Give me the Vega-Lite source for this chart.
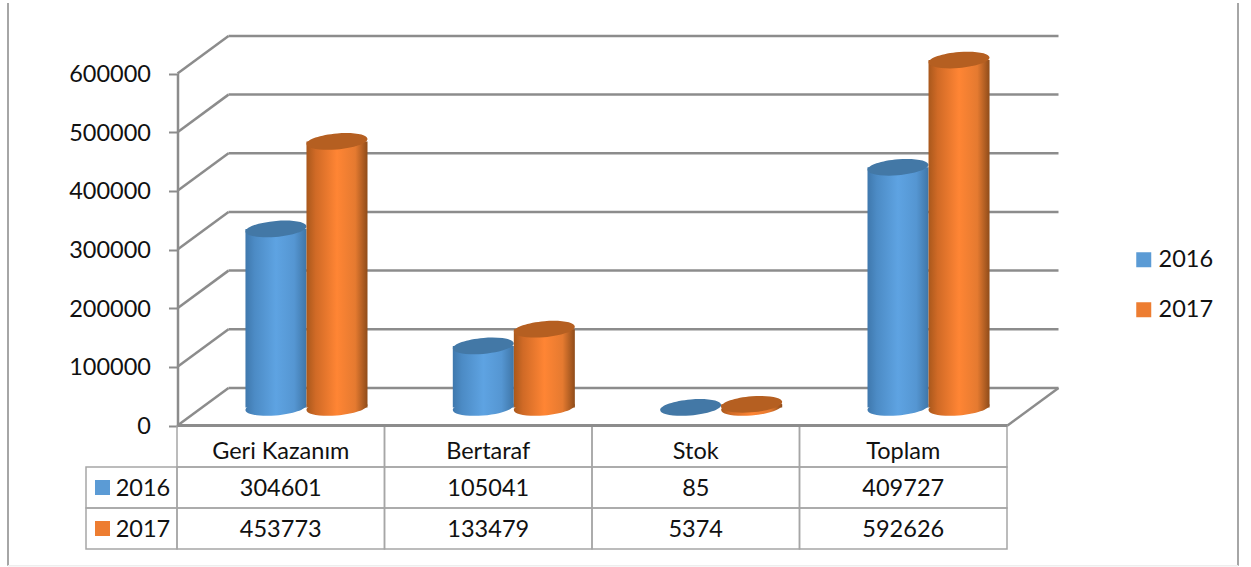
{
"$schema":"https://vega.github.io/schema/vega-lite/v6.json",
"width":1251,"height":567,
"autosize":{"type":"fit","contains":"padding"},
"padding":0,
"background":"white",
"config":{"view":{"stroke":null},"font":"Lato","text":{"font":"Lato","fontSize":23.5,"fill":"#111111"}},
"datasets":{
"values":[
{"cat":"Geri Kazanım","year":"2016","value":304601},
{"cat":"Bertaraf","year":"2016","value":105041},
{"cat":"Stok","year":"2016","value":85},
{"cat":"Toplam","year":"2016","value":409727},
{"cat":"Geri Kazanım","year":"2017","value":453773},
{"cat":"Bertaraf","year":"2017","value":133479},
{"cat":"Stok","year":"2017","value":5374},
{"cat":"Toplam","year":"2017","value":592626}],
"cats":[{"cat":"Geri Kazanım"},{"cat":"Bertaraf"},{"cat":"Stok"},{"cat":"Toplam"}],
"years":[{"year":"2016"},{"year":"2017"}],
"grid":[{"v":0,"vBack":64000},{"v":100000,"vBack":164000},{"v":200000,"vBack":264000},{"v":300000,"vBack":364000},{"v":400000,"vBack":464000},{"v":500000,"vBack":564000},{"v":600000,"vBack":664000}],
"frame":[{"v":-239000,"vBack":720000}],
"frameBottom":[{"v":-239000}]
},
"resolve":{"scale":{"x":"independent","y":"independent"}},
"layer":[
{"data":{"name":"years"},
 "encoding":{
  "x":{"datum":"Yıl","type":"nominal","axis":null,"scale":{"type":"band","domain":["Yıl"],"range":[86,177],"paddingInner":0,"paddingOuter":0}},
  "y":{"field":"year","type":"nominal","axis":null,"scale":{"type":"band","domain":["head","2016","2017"],"range":[426,549],"paddingInner":0,"paddingOuter":0}}},
 "layer":[
  {"mark":{"type":"rect","fill":"transparent","stroke":"#a6a6a6","strokeWidth":1.5}},
  {"mark":{"type":"point","shape":"square","filled":true,"opacity":1,"size":225,"xOffset":-29},
   "encoding":{"color":{"field":"year","type":"nominal","scale":{"domain":["2016","2017"],"range":["#5B9BD5","#ED7D31"]},
     "legend":{"orient":"none","legendX":1132,"legendY":248,"title":null,"symbolType":"square","symbolSize":225,"symbolStrokeWidth":0,"labelFont":"Lato","labelFontSize":23.5,"labelColor":"#111111","labelOffset":3,"rowPadding":25,"padding":0}}}},
  {"mark":{"type":"text","xOffset":11.5,"yOffset":1},"encoding":{"text":{"field":"year","type":"nominal"}}}
 ]},
{"encoding":{
  "x":{"field":"cat","type":"nominal","sort":null,"axis":null,"scale":{"type":"band","domain":["Geri Kazanım","Bertaraf","Stok","Toplam"],"range":[177,1007],"paddingInner":0,"paddingOuter":0}},
  "y":{"field":"year","type":"nominal","axis":null,"scale":{"type":"band","domain":["head","2016","2017"],"range":[426,549],"paddingInner":0,"paddingOuter":0}}},
 "layer":[
  {"data":{"name":"cats"},"mark":{"type":"rect","fill":"transparent","stroke":"#a6a6a6","strokeWidth":1.5},"encoding":{"y":{"datum":"head"}}},
  {"data":{"name":"values"},"mark":{"type":"rect","fill":"transparent","stroke":"#a6a6a6","strokeWidth":1.5}},
  {"data":{"name":"cats"},"mark":{"type":"text","yOffset":5},"encoding":{"y":{"datum":"head"},"text":{"field":"cat","type":"nominal"}}},
  {"data":{"name":"values"},"mark":{"type":"text","yOffset":1},"encoding":{"text":{"field":"value","type":"quantitative","format":"d"}}}
 ]},
{"data":{"name":"grid"},
 "encoding":{
  "y":{"field":"v","type":"quantitative","scale":{"domain":[0,600000],"range":[425.5,73.5],"nice":false,"zero":false},
   "axis":{"title":null,"values":[0,100000,200000,300000,400000,500000,600000],"format":"d","offset":-177.5,"grid":false,"domainColor":"#8c8c8c","domainWidth":2.5,"tickColor":"#8c8c8c","tickWidth":2,"tickSize":9,"labelPadding":18,"labelOffset":1,"labelFont":"Lato","labelFontSize":23.5,"labelColor":"#111111","labelFlush":false}},
  "x":{"datum":0,"type":"quantitative","axis":null,"scale":{"domain":[0,881],"range":[177.5,1058.5],"nice":false,"zero":false}}},
 "layer":[
  {"mark":{"type":"rule","stroke":"#8c8c8c","strokeWidth":2.5},"encoding":{"y2":{"field":"vBack"},"x2":{"datum":51}}},
  {"mark":{"type":"rule","stroke":"#8c8c8c","strokeWidth":2.5},"encoding":{"y":{"field":"vBack","type":"quantitative"},"x":{"datum":51,"type":"quantitative"},"x2":{"datum":881}}},
  {"data":{"values":[{"v":0}]},"mark":{"type":"rule","stroke":"#8c8c8c","strokeWidth":3},"encoding":{"x2":{"datum":830}}},
  {"data":{"values":[{"v":0}]},"mark":{"type":"rule","stroke":"#8c8c8c","strokeWidth":2.5},"encoding":{"x":{"datum":830,"type":"quantitative"},"x2":{"datum":881},"y2":{"datum":64000}}},
  {"data":{"name":"frame"},"mark":{"type":"rule","stroke":"#a6a6a6","strokeWidth":2},"encoding":{"x":{"datum":-169.5,"type":"quantitative"},"y2":{"field":"vBack"}}},
  {"data":{"name":"frame"},"mark":{"type":"rule","stroke":"#a6a6a6","strokeWidth":2},"encoding":{"x":{"datum":1060.5,"type":"quantitative"},"y2":{"field":"vBack"}}},
  {"data":{"name":"frameBottom"},"mark":{"type":"rule","stroke":"#eeeeee","strokeWidth":1.5},"encoding":{"x":{"datum":-169.5,"type":"quantitative"},"x2":{"datum":1060.5}}}
 ]},
{"data":{"name":"values"},
 "encoding":{
  "x":{"field":"cat","type":"nominal","sort":null,"axis":null,"scale":{"type":"band","domain":["Geri Kazanım","Bertaraf","Stok","Toplam"],"range":[202.8,1032.2],"paddingInner":0,"paddingOuter":0}},
  "xOffset":{"field":"year","type":"nominal","scale":{"domain":["2016","2017"],"paddingInner":0,"paddingOuter":0.699}},
  "y":{"field":"value","type":"quantitative","axis":null,"stack":null,"scale":{"domain":[0,600000],"range":[407.5,55.7],"nice":false,"zero":false}}},
 "layer":[
  {"transform":[{"filter":"datum.year=='2016' && datum.value>1000"}],"mark":{"type":"point","filled":true,"opacity":1,"size":3721,"shape":"M-1,0.08A1,0.26 -5 1,0 1,-0.08A1,0.26 -5 1,0 -1,0.08Z","fill":{"x1":0,"y1":0,"x2":1,"y2":0,"gradient":"linear","stops":[{"offset":0,"color":"#3f78ad"},{"offset":0.15,"color":"#4c8bc5"},{"offset":0.5,"color":"#5ea3e2"},{"offset":0.8,"color":"#5596d2"},{"offset":1,"color":"#3f76a8"}]}},"encoding":{"y":{"datum":0}}},
  {"transform":[{"filter":"datum.year=='2016'"}],"mark":{"type":"bar","fill":{"x1":0,"y1":0,"x2":1,"y2":0,"gradient":"linear","stops":[{"offset":0,"color":"#3f78ad"},{"offset":0.15,"color":"#4c8bc5"},{"offset":0.5,"color":"#5ea3e2"},{"offset":0.8,"color":"#5596d2"},{"offset":1,"color":"#3f76a8"}]}}},
  {"transform":[{"filter":"datum.year=='2016'"}],"mark":{"type":"point","filled":true,"opacity":1,"size":3721,"shape":"M-1,0.08A1,0.26 -5 1,0 1,-0.08A1,0.26 -5 1,0 -1,0.08Z","fill":"#4378a6"}},
  {"transform":[{"filter":"datum.year=='2017'"}],"mark":{"type":"point","filled":true,"opacity":1,"size":3721,"shape":"M-1,0.08A1,0.26 -5 1,0 1,-0.08A1,0.26 -5 1,0 -1,0.08Z","fill":{"x1":0,"y1":0,"x2":1,"y2":0,"gradient":"linear","stops":[{"offset":0,"color":"#a9581c"},{"offset":0.15,"color":"#d06a26"},{"offset":0.5,"color":"#ff8534"},{"offset":0.8,"color":"#e57a30"},{"offset":1,"color":"#8f4c1a"}]}},"encoding":{"y":{"datum":0}}},
  {"transform":[{"filter":"datum.year=='2017'"}],"mark":{"type":"bar","fill":{"x1":0,"y1":0,"x2":1,"y2":0,"gradient":"linear","stops":[{"offset":0,"color":"#a9581c"},{"offset":0.15,"color":"#d06a26"},{"offset":0.5,"color":"#ff8534"},{"offset":0.8,"color":"#e57a30"},{"offset":1,"color":"#8f4c1a"}]}}},
  {"transform":[{"filter":"datum.year=='2017'"}],"mark":{"type":"point","filled":true,"opacity":1,"size":3721,"shape":"M-1,0.08A1,0.26 -5 1,0 1,-0.08A1,0.26 -5 1,0 -1,0.08Z","fill":"#b55f21"}}
 ]}
]}
